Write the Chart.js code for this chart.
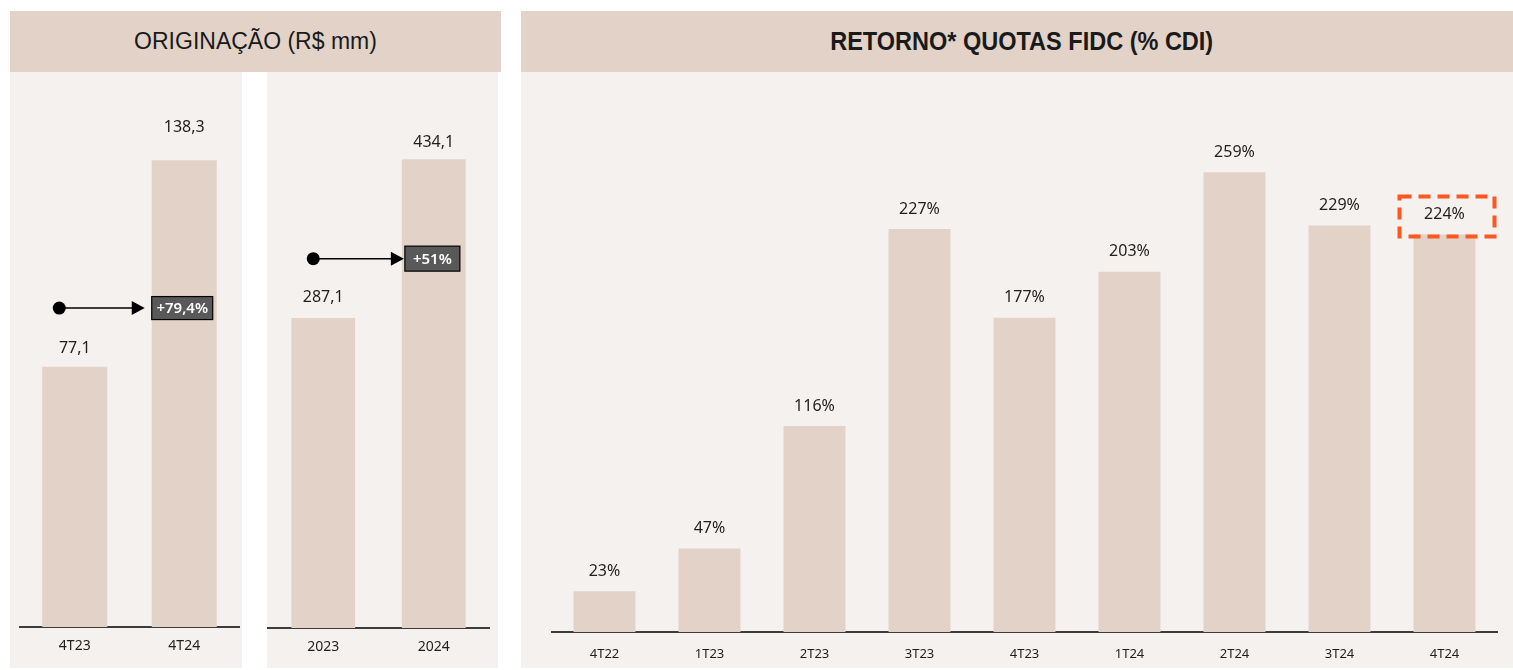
<!DOCTYPE html>
<html>
<head>
<meta charset="utf-8">
<script src="https://cdn.jsdelivr.net/npm/chart.js@4.4.1/dist/chart.umd.min.js"></script>
<style>
  body { margin: 0; width: 1513px; height: 670px; background: #fff; position: relative; overflow: hidden; }
  .hdr { position: absolute; top: 11px; height: 61px; background: #e2d2c8; color: #1a1a1a;
         display: flex; align-items: center; justify-content: center; }
  .pane { position: absolute; top: 72px; height: 596px; background: #f5f1ee; }
  .pane canvas { position: absolute; left: 0; top: 0; }
  #h1 { left: 10px; width: 491px; font: 23px 'Liberation Sans', Arial, sans-serif; }
  #h2 { left: 521px; width: 992px; font: bold 25px 'Liberation Sans', Arial, sans-serif; }
  #h2 span { display: inline-block; transform: scaleX(0.94); margin-left: 10px; }
</style>
</head>
<body>
<div class="hdr" id="h1">ORIGINAÇÃO (R$ mm)</div>
<div class="pane" style="left:10px;width:232px"><canvas id="cQuarter" width="232" height="596"></canvas></div>
<div class="pane" style="left:267px;width:231px"><canvas id="cYear" width="231" height="596"></canvas></div>
<div class="hdr" id="h2"><span>RETORNO* QUOTAS FIDC (% CDI)</span></div>
<div class="pane" style="left:521px;width:992px"><canvas id="cFidc" width="992" height="596"></canvas></div>

<script>
const quarterLabels = ['4T23', '4T24'];
const quarterValues = [77.1, 138.3];
const quarterGrowth = '+79,4%';

const yearLabels = ['2023', '2024'];
const yearValues = [287.1, 434.1];
const yearGrowth = '+51%';

const fidcLabels = ['4T22', '1T23', '2T23', '3T23', '4T23', '1T24', '2T24', '3T24', '4T24'];
const fidcValues = [23, 47, 116, 227, 177, 203, 259, 229, 224];

const BAR = '#e2d2c8';
const INK = '#1f1f1f';
const FONT = "'Noto Sans', sans-serif";

// number labels above each bar
function valueLabels(fmt, lift) {
  return {
    id: 'valueLabels',
    afterDatasetsDraw(chart) {
      const ctx = chart.ctx;
      const meta = chart.getDatasetMeta(0);
      const vals = chart.data.datasets[0].data;
      ctx.save();
      ctx.font = '16px ' + FONT;
      ctx.fillStyle = INK;
      ctx.textAlign = 'center';
      ctx.textBaseline = 'middle';
      meta.data.forEach((bar, i) => {
        const dy = Array.isArray(lift) ? lift[i] : lift;
        ctx.fillText(fmt(vals[i]), bar.x, bar.y - dy);
      });
      ctx.restore();
    }
  };
}

// dot -> arrow -> dark growth box
function growthArrow(o) {
  return {
    id: 'growthArrow',
    afterDatasetsDraw(chart) {
      const ctx = chart.ctx;
      const bars = chart.getDatasetMeta(0).data;
      const y = chart.scales.y.getPixelForValue(o.at);
      const dotX = bars[0].x - o.dotShift;
      const boxL = bars[1].x - bars[1].width / 2 + o.boxShift;
      const tip = boxL - o.gap;
      ctx.save();
      ctx.fillStyle = '#000';
      ctx.beginPath();
      ctx.arc(dotX, y, 6.5, 0, Math.PI * 2);
      ctx.fill();
      ctx.strokeStyle = '#000';
      ctx.lineWidth = 1.5;
      ctx.beginPath();
      ctx.moveTo(dotX, y);
      ctx.lineTo(tip - 12, y);
      ctx.stroke();
      ctx.beginPath();
      ctx.moveTo(tip, y);
      ctx.lineTo(tip - 13, y - 7);
      ctx.lineTo(tip - 13, y + 7);
      ctx.closePath();
      ctx.fill();
      ctx.fillStyle = '#595959';
      ctx.fillRect(boxL, y - o.boxH / 2, o.boxW, o.boxH);
      ctx.lineWidth = 1.2;
      ctx.strokeRect(boxL, y - o.boxH / 2, o.boxW, o.boxH);
      ctx.fillStyle = '#fff';
      ctx.font = '600 15px ' + FONT;
      ctx.textAlign = 'center';
      ctx.textBaseline = 'middle';
      ctx.fillText(o.text, boxL + o.boxW / 2, y + 1);
      ctx.restore();
    }
  };
}

// orange dashed frame round the last label
const lastHighlight = {
  id: 'lastHighlight',
  afterDatasetsDraw(chart) {
    const ctx = chart.ctx;
    const bars = chart.getDatasetMeta(0).data;
    const b = bars[bars.length - 1];
    ctx.save();
    ctx.strokeStyle = '#ff5722';
    ctx.lineWidth = 4;
    ctx.setLineDash([12, 7]);
    ctx.strokeRect(b.x - 45, b.y - 38, 95, 40);
    ctx.restore();
  }
};

function barChart(id, labels, values, cfg) {
  return new Chart(document.getElementById(id), {
    type: 'bar',
    data: {
      labels,
      datasets: [{
        data: values,
        backgroundColor: BAR,
        borderWidth: 0,
        barPercentage: cfg.barPct,
        categoryPercentage: 1.0,
      }],
    },
    options: {
      responsive: false,
      animation: false,
      layout: { padding: cfg.pad },
      plugins: { legend: { display: false }, tooltip: { enabled: false } },
      scales: {
        x: {
          grid: { display: false, drawTicks: false },
          border: { display: true, color: '#3c3c3c', width: 2 },
          ticks: { color: INK, font: { family: FONT, size: cfg.tickSize }, padding: cfg.tickPad, maxRotation: 0 },
          afterFit: s => { s.height = cfg.axisH; },
        },
        y: { display: false, min: 0, max: cfg.max },
      },
    },
    plugins: cfg.plugins,
  });
}

barChart('cQuarter', quarterLabels, quarterValues, {
  barPct: 0.594, max: 160, tickSize: 14, tickPad: 11, axisH: 41,
  pad: { top: 15, left: 10, right: 3, bottom: 0 },
  plugins: [
    valueLabels(v => v.toFixed(1).replace('.', ','), [18, 33]),
    growthArrow({ at: 94.5, text: quarterGrowth, dotShift: 15.5, boxShift: 0, gap: 7, boxW: 61, boxH: 23 }),
  ],
});

barChart('cYear', yearLabels, yearValues, {
  barPct: 0.577, max: 500, tickSize: 14, tickPad: 11, axisH: 40,
  pad: { top: 16, left: 1, right: 9, bottom: 0 },
  plugins: [
    valueLabels(v => v.toFixed(1).replace('.', ','), [20, 17]),
    growthArrow({ at: 342, text: yearGrowth, dotShift: 10, boxShift: 3, gap: 1, boxW: 55, boxH: 25 }),
  ],
});

barChart('cFidc', fidcLabels, fidcValues, {
  barPct: 0.59, max: 280, tickSize: 13, tickPad: 14, axisH: 36,
  pad: { top: 63, left: 31, right: 16, bottom: 0 },
  plugins: [valueLabels(v => v + '%', 20), lastHighlight],
});
</script>
</body>
</html>
